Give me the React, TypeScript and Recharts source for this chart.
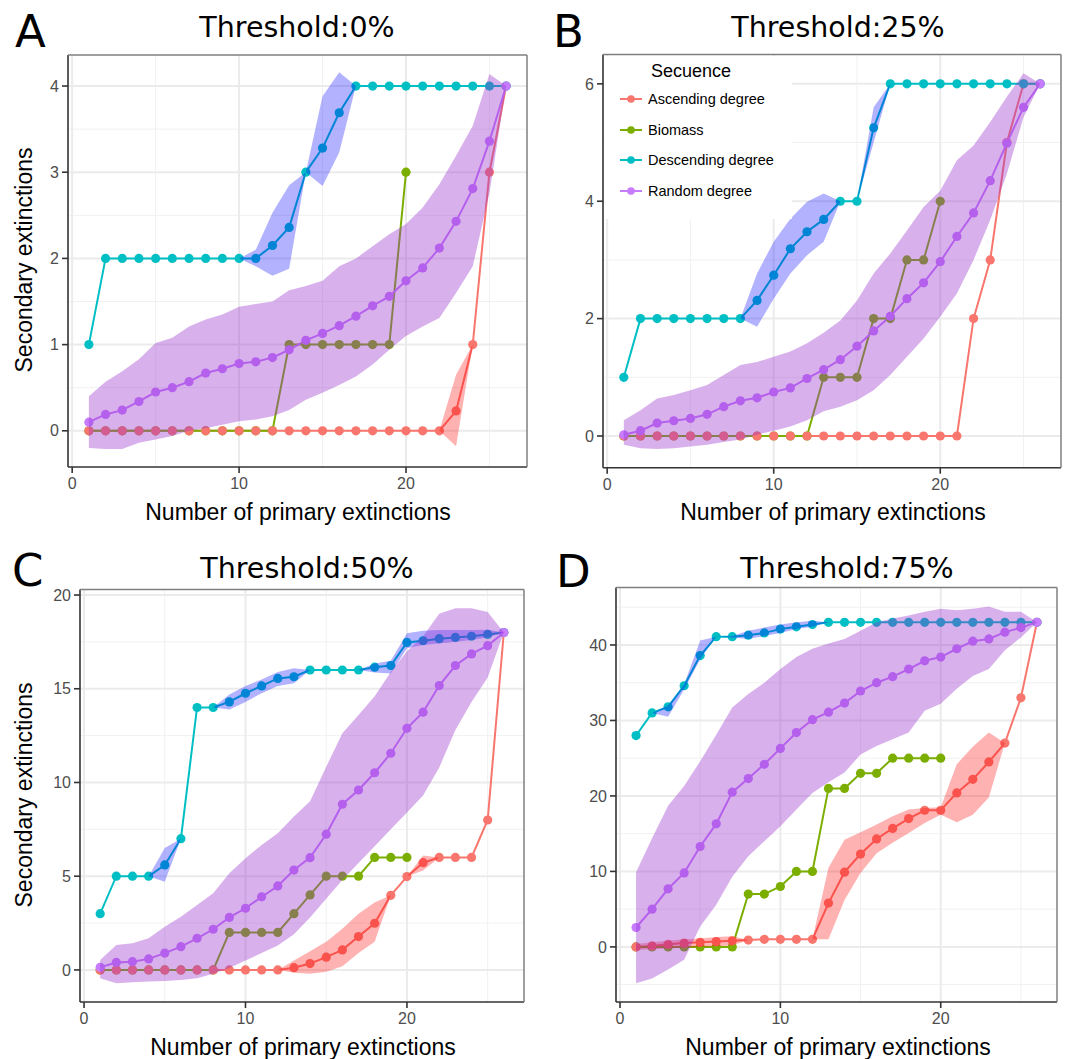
import React from 'react';
import { ComposedChart, Line, Area, XAxis, YAxis, CartesianGrid } from 'recharts';

// ---------- shared ----------
const X = [1, 2, 3, 4, 5, 6, 7, 8, 9, 10, 11, 12, 13, 14, 15, 16, 17, 18, 19, 20, 21, 22, 23, 24, 25, 26];
const X_TICKS = [0, 10, 20];
const X_MINOR = [5, 15, 25];
const SERIES_NAMES = ['Ascending degree', 'Biomass', 'Descending degree', 'Random degree'];
const LEGEND_TITLE = 'Secuence';
const X_TITLE = 'Number of primary extinctions';
const Y_TITLE = 'Secondary extinctions';

const pad = (start: number, vals: (number | null)[]) =>
  X.map((x) => {
    const i = x - start;
    return i >= 0 && i < vals.length ? vals[i] : null;
  });

// ---------- Panel A : Threshold 0% ----------
const A_ASC = [0, 0, 0, 0, 0, 0, 0, 0, 0, 0, 0, 0, 0, 0, 0, 0, 0, 0, 0, 0, 0, 0, 0.23, 1, 3, 4];
const A_BIO = [0, 0, 0, 0, 0, 0, 0, 0, 0, 0, 0, 0, 1, 1, 1, 1, 1, 1, 1, 3];
const A_DESC = [1, 2, 2, 2, 2, 2, 2, 2, 2, 2, 2, 2.15, 2.36, 3, 3.28, 3.69, 4, 4, 4, 4, 4, 4, 4, 4, 4, 4];
const A_RAND = [0.1, 0.19, 0.24, 0.34, 0.45, 0.5, 0.57, 0.67, 0.72, 0.78, 0.8, 0.85, 0.94, 1.05, 1.13, 1.22, 1.33, 1.45, 1.56, 1.74, 1.89, 2.12, 2.43, 2.81, 3.36, 4];
const A_ASC_LO = pad(22, [0, -0.18, 1]);
const A_ASC_HI = pad(22, [0, 0.65, 1]);
const A_DESC_LO = pad(10, [2, 1.91, 1.8, 1.88, 3, 2.84, 3.23, 4]);
const A_DESC_HI = pad(10, [2, 2.1, 2.53, 2.85, 3, 3.88, 4.16, 4]);
const A_RAND_LO = [-0.2, -0.21, -0.21, -0.14, -0.1, -0.06, 0, 0.03, 0.07, 0.11, 0.13, 0.17, 0.24, 0.36, 0.44, 0.53, 0.63, 0.77, 0.94, 1.1, 1.21, 1.31, 1.6, 1.91, 2.76, 4];
const A_RAND_HI = [0.4, 0.57, 0.69, 0.83, 1.02, 1.08, 1.21, 1.29, 1.35, 1.44, 1.47, 1.5, 1.63, 1.68, 1.74, 1.91, 2.0, 2.14, 2.28, 2.4, 2.59, 2.86, 3.19, 3.54, 4.14, 4];

// ---------- Panel B : Threshold 25% ----------
const B_ASC = [0, 0, 0, 0, 0, 0, 0, 0, 0, 0, 0, 0, 0, 0, 0, 0, 0, 0, 0, 0, 0, 2, 3, 5, 6, 6];
const B_BIO = [0, 0, 0, 0, 0, 0, 0, 0, 0, 0, 0, 0, 1, 1, 1, 2, 2, 3, 3, 4];
const B_DESC = [1, 2, 2, 2, 2, 2, 2, 2, 2.31, 2.74, 3.19, 3.48, 3.69, 4, 4, 5.25, 6, 6, 6, 6, 6, 6, 6, 6, 6, 6];
const B_RAND = [0.02, 0.09, 0.22, 0.26, 0.3, 0.37, 0.5, 0.6, 0.65, 0.75, 0.82, 0.98, 1.13, 1.3, 1.53, 1.79, 2.04, 2.34, 2.61, 2.97, 3.4, 3.8, 4.35, 4.99, 5.6, 6];
const B_ASC_LO = pad(1, []);
const B_ASC_HI = pad(1, []);
const B_DESC_LO = pad(8, [2, 1.86, 2.34, 2.77, 3.08, 3.31, 4, 4, 5.0, 6]);
const B_DESC_HI = pad(8, [2, 2.77, 3.31, 3.7, 3.99, 4.13, 4, 4, 5.6, 6]);
const B_RAND_LO = [-0.15, -0.21, -0.22, -0.21, -0.18, -0.15, -0.1, -0.06, 0.02, 0.09, 0.16, 0.27, 0.42, 0.5, 0.61, 0.78, 1.04, 1.35, 1.66, 2.03, 2.43, 3.0, 3.68, 4.47, 5.43, 6];
const B_RAND_HI = [0.27, 0.44, 0.64, 0.7, 0.78, 0.87, 1.04, 1.21, 1.26, 1.35, 1.44, 1.58, 1.76, 1.97, 2.31, 2.77, 3.11, 3.5, 3.9, 4.18, 4.7, 4.95, 5.35, 5.78, 6.18, 6];

// ---------- Panel C : Threshold 50% ----------
const C_ASC = [0, 0, 0, 0, 0, 0, 0, 0, 0, 0, 0, 0, 0.12, 0.34, 0.68, 1.07, 1.78, 2.49, 3.98, 4.98, 5.72, 6, 6, 6, 8, 18];
const C_BIO = [0, 0, 0, 0, 0, 0, 0, 0, 2, 2, 2, 2, 3, 4, 5, 5, 5, 6, 6, 6];
const C_DESC = [3, 5, 5, 5, 5.6, 7, 14, 14, 14.3, 14.76, 15.15, 15.55, 15.64, 16, 16, 16, 16, 16.15, 16.24, 17.47, 17.56, 17.67, 17.74, 17.8, 17.9, 18];
const C_RAND = [0.14, 0.4, 0.44, 0.59, 0.9, 1.24, 1.69, 2.17, 2.8, 3.29, 3.9, 4.48, 5.33, 5.99, 7.24, 8.84, 9.6, 10.52, 11.56, 12.89, 13.75, 15.17, 16.24, 16.86, 17.3, 18];
const C_ASC_LO = pad(12, [0, -0.15, -0.2, -0.1, 0.2, 0.9, 1.5, 3.98, 4.98, 5.3, 6]);
const C_ASC_HI = pad(12, [0, 0.5, 1.0, 1.5, 2.2, 3.0, 3.6, 3.98, 4.98, 6.1, 6]);
const C_DESC_LO = pad(4, [5, 4.7, 7, null, 14, 13.9, 14.3, 14.76, 15.15, 15.3, 16, null, null, 16, 15.87, 15.82, 17.16, 17.33, 17.42, 17.51, 17.6, 17.74, 18]);
const C_DESC_HI = pad(4, [5, 6.5, 7, null, 14, 14.7, 15.15, 15.5, 15.9, 16.1, 16, null, null, 16, 16.35, 16.5, 17.96, 18.1, 18.13, 18.13, 18.13, 18.15, 18]);
const C_RAND_LO = [-0.44, -0.71, -0.66, -0.62, -0.59, -0.53, -0.44, -0.2, 0.1, 0.5, 0.9, 1.3, 1.9, 2.8, 3.8, 4.8, 5.7, 6.6, 7.5, 8.4, 9.3, 10.8, 12.8, 14.3, 15.6, 18];
const C_RAND_HI = [0.53, 1.33, 1.42, 1.69, 2.3, 2.84, 3.47, 4.09, 5.16, 5.96, 6.67, 7.29, 8.18, 9.0, 10.84, 12.62, 13.6, 14.6, 15.9, 17.0, 17.8, 19.0, 19.3, 19.3, 19.1, 18];

// ---------- Panel D : Threshold 75% ----------
const D_ASC = [0, 0.13, 0.35, 0.5, 0.6, 0.7, 0.8, 0.9, 1, 1, 1, 1, 5.8, 9.9, 12.3, 14.3, 15.7, 17.0, 18.1, 18.1, 20.4, 22.2, 24.5, 27.0, 33.0, 43];
const D_BIO = [0, 0, 0, 0, 0, 0, 0, 7, 7, 8, 10, 10, 21, 21, 23, 23, 25, 25, 25, 25];
const D_DESC = [28, 31, 31.8, 34.6, 38.6, 41.1, 41.1, 41.3, 41.6, 42.1, 42.4, 42.7, 43, 43, 43, 43, 43, 43, 43, 43, 43, 43, 43, 43, 43, 43];
const D_RAND = [2.57, 5.0, 7.7, 9.8, 13.3, 16.3, 20.5, 22.3, 24.2, 26.3, 28.4, 30.1, 31.1, 32.3, 33.9, 35.0, 35.8, 36.8, 37.9, 38.4, 39.5, 40.5, 40.8, 41.7, 42.3, 43];
const D_ASC_LO = pad(1, [-0.4, -0.3, -0.2, -0.1, 0, 0.1, 0.2, 0.9, null, null, null, 1, 1.0, 6.2, 9.8, 12.4, 13.8, 15.1, 16.4, 17.5, 16.5, 17.5, 19.8, 27]);
const D_ASC_HI = pad(1, [0.4, 0.6, 0.8, 1.0, 1.1, 1.3, 1.4, 0.9, null, null, null, 1, 10.5, 14.2, 15.2, 16.2, 17.3, 18.2, 18.4, 18.5, 24.2, 26.5, 28.4, 27]);
const D_DESC_LO = pad(2, [31, 30.5, 34.1, 38.1, 41.1, 41.0, 40.8, 41.2, 41.6, 42.1, 42.4, 43]);
const D_DESC_HI = pad(2, [31, 32.0, 34.8, 40.6, 41.1, 41.2, 41.9, 42.3, 42.7, 43.0, 43.2, 43]);
const D_RAND_LO = [-4.8, -4.2, -3.0, -1.7, 2.7, 5.6, 9.3, 12.0, 14.0, 16.0, 18.2, 20.4, 21.8, 23.1, 25.5, 26.6, 27.5, 28.4, 31.3, 32.2, 34.2, 35.9, 36.8, 39.3, 41.0, 43];
const D_RAND_HI = [9.9, 14.4, 18.7, 21.3, 24.6, 28.1, 31.7, 33.5, 35.0, 36.8, 38.4, 39.5, 40.2, 40.8, 41.9, 43.0, 43.5, 43.9, 44.4, 44.8, 44.6, 44.8, 45.1, 44.4, 44.4, 43];

// ---------- styles ----------
const COL = { asc: '#F8766D', bio: '#7CAE00', desc: '#00BFC4', rand: '#C77CFF' };
const RIB = {
  asc: { fill: '#ff0000', op: 0.3 },
  desc: { fill: '#0000ff', op: 0.3 },
  rand: { fill: '#9932cc', op: 0.38 },
};
const SANS = 'Liberation Sans, Arial, sans-serif';
const DEJAVU = 'DejaVu Sans, sans-serif';

type Arr = (number | null)[];
type PanelCfg = {
  key: string;
  letter: string;
  title: string;
  left: number; top: number; w: number; h: number;
  mt: number; mr: number; yw: number; xh: number;
  yDomain: [number, number];
  yTicks: number[];
  yMinor: number[];
  asc: Arr; bio: Arr; desc: Arr; rand: Arr;
  ascLo: Arr; ascHi: Arr; descLo: Arr; descHi: Arr; randLo: Arr; randHi: Arr;
};

const PANELS: PanelCfg[] = [
  {
    key: 'A', letter: 'A', title: 'Threshold:0%',
    left: 0, top: 0, w: 535, h: 530, mt: 55, mr: 8, yw: 68, xh: 63,
    yDomain: [-0.42, 4.36], yTicks: [0, 1, 2, 3, 4], yMinor: [0.5, 1.5, 2.5, 3.5],
    asc: A_ASC, bio: A_BIO, desc: A_DESC, rand: A_RAND,
    ascLo: A_ASC_LO, ascHi: A_ASC_HI, descLo: A_DESC_LO, descHi: A_DESC_HI, randLo: A_RAND_LO, randHi: A_RAND_HI,
  },
  {
    key: 'B', letter: 'B', title: 'Threshold:25%',
    left: 535, top: 0, w: 535, h: 530, mt: 54.5, mr: 9, yw: 68, xh: 62.3,
    yDomain: [-0.54, 6.5], yTicks: [0, 2, 4, 6], yMinor: [1, 3, 5],
    asc: B_ASC, bio: B_BIO, desc: B_DESC, rand: B_RAND,
    ascLo: B_ASC_LO, ascHi: B_ASC_HI, descLo: B_DESC_LO, descHi: B_DESC_HI, randLo: B_RAND_LO, randHi: B_RAND_HI,
  },
  {
    key: 'C', letter: 'C', title: 'Threshold:50%',
    left: 0, top: 530, w: 535, h: 529, mt: 59.4, mr: 11, yw: 80, xh: 57,
    yDomain: [-1.71, 20.3], yTicks: [0, 5, 10, 15, 20], yMinor: [2.5, 7.5, 12.5, 17.5],
    asc: C_ASC, bio: C_BIO, desc: C_DESC, rand: C_RAND,
    ascLo: C_ASC_LO, ascHi: C_ASC_HI, descLo: C_DESC_LO, descHi: C_DESC_HI, randLo: C_RAND_LO, randHi: C_RAND_HI,
  },
  {
    key: 'D', letter: 'D', title: 'Threshold:75%',
    left: 535, top: 530, w: 535, h: 529, mt: 57.6, mr: 13, yw: 81, xh: 57,
    yDomain: [-7.3, 47.6], yTicks: [0, 10, 20, 30, 40], yMinor: [-5, 5, 15, 25, 35, 45],
    asc: D_ASC, bio: D_BIO, desc: D_DESC, rand: D_RAND,
    ascLo: D_ASC_LO, ascHi: D_ASC_HI, descLo: D_DESC_LO, descHi: D_DESC_HI, randLo: D_RAND_LO, randHi: D_RAND_HI,
  },
];

// text placement (page coordinates)
const TEXT_POS: Record<string, any> = {
  A: { letter: [15, 47], title: [297, 37], xTitle: [298, 520], yTitle: [32, 260] },
  B: { letter: [553, 47], title: [838, 37], xTitle: [833, 520], yTitle: null },
  C: { letter: [12, 586], title: [307, 578], xTitle: [303, 1055], yTitle: [32, 795] },
  D: { letter: [556, 587], title: [847, 578], xTitle: [838, 1055], yTitle: null },
};

const rng = (lo: Arr, hi: Arr, i: number) =>
  lo[i] != null && hi[i] != null ? [lo[i], hi[i]] : null;

function buildRows(p: PanelCfg) {
  return X.map((x, i) => ({
    x,
    asc: p.asc[i] ?? null,
    bio: p.bio[i] ?? null,
    desc: p.desc[i] ?? null,
    rand: p.rand[i] ?? null,
    ascR: rng(p.ascLo, p.ascHi, i),
    descR: rng(p.descLo, p.descHi, i),
    randR: rng(p.randLo, p.randHi, i),
  }));
}

const tickStyle = { fill: '#4d4d4d', fontSize: 16, fontFamily: SANS };

function axes(p: PanelCfg, visible: boolean) {
  const ax = visible ? { stroke: '#333333', strokeWidth: 1.6 } : false;
  return [
    <XAxis
      key="xa"
      dataKey="x"
      type="number"
      domain={[-0.25, 27.25]}
      ticks={X_TICKS}
      allowDataOverflow
      height={p.xh}
      tickSize={6}
      tickMargin={5}
      tick={visible ? tickStyle : false}
      axisLine={ax}
      tickLine={ax}
    />,
    <YAxis
      key="ya"
      type="number"
      domain={p.yDomain}
      ticks={p.yTicks}
      allowDataOverflow
      width={p.yw}
      tickSize={6}
      tickMargin={3}
      tick={visible ? tickStyle : false}
      axisLine={ax}
      tickLine={ax}
    />,
  ];
}

type K = 'asc' | 'bio' | 'desc' | 'rand';

function Panel({ p }: { p: PanelCfg }) {
  const data = buildRows(p);
  const lineOnly = (k: K) => (
    <Line
      key={'l' + k}
      type="linear"
      dataKey={k}
      stroke={COL[k]}
      strokeWidth={2}
      dot={false}
      activeDot={false}
      isAnimationActive={false}
      connectNulls={false}
    />
  );
  const dotsOnly = (k: K) => (
    <Line
      key={'d' + k}
      type="linear"
      dataKey={k}
      stroke="none"
      strokeWidth={0}
      dot={{ r: 4.6, fill: COL[k], stroke: 'none', strokeWidth: 0 }}
      activeDot={false}
      isAnimationActive={false}
      connectNulls={false}
    />
  );
  const ribbon = (k: 'asc' | 'desc' | 'rand') => (
    <Area
      key={'r' + k}
      type="linear"
      dataKey={k + 'R'}
      stroke="none"
      fill={RIB[k].fill}
      fillOpacity={RIB[k].op}
      dot={false}
      activeDot={false}
      isAnimationActive={false}
      connectNulls={false}
    />
  );
  const margin = { top: p.mt, right: p.mr, bottom: 0, left: 0 };
  return (
    <>
      {/* base layer: grid, axes, lines, points */}
      <div style={{ position: 'absolute', left: p.left, top: p.top }}>
        <ComposedChart width={p.w} height={p.h} data={data} margin={margin}>
          <CartesianGrid horizontalValues={p.yMinor} verticalValues={X_MINOR} stroke="#f1f1f1" strokeWidth={1} />
          <CartesianGrid horizontalValues={p.yTicks} verticalValues={X_TICKS} stroke="#ebebeb" strokeWidth={2} />
          {axes(p, true)}
          {lineOnly('asc')}
          {lineOnly('bio')}
          {lineOnly('desc')}
          {lineOnly('rand')}
          {dotsOnly('bio')}
          {dotsOnly('asc')}
          {dotsOnly('desc')}
          {dotsOnly('rand')}
        </ComposedChart>
      </div>
      {/* ribbon layer drawn on top (semi-transparent) */}
      <div style={{ position: 'absolute', left: p.left, top: p.top, pointerEvents: 'none' }}>
        <ComposedChart width={p.w} height={p.h} data={data} margin={margin}>
          {axes(p, false)}
          {ribbon('asc')}
          {ribbon('desc')}
          {ribbon('rand')}
        </ComposedChart>
      </div>
    </>
  );
}

function Overlay() {
  const items: React.ReactNode[] = [];
  PANELS.forEach((p) => {
    const l = p.left + p.yw;
    const r = p.left + p.w - p.mr;
    const t = p.top + p.mt;
    const b = p.top + p.h - p.xh;
    const tp = TEXT_POS[p.key];
    items.push(
      <line key={p.key + 'bt'} x1={l} y1={t} x2={r} y2={t} stroke="#7f7f7f" strokeWidth={1.5} />,
      <line key={p.key + 'br'} x1={r} y1={t} x2={r} y2={b} stroke="#7f7f7f" strokeWidth={1.5} />,
      <text key={p.key + 'L'} x={tp.letter[0]} y={tp.letter[1]} fontFamily={DEJAVU} fontSize={45} fill="#000">
        {p.letter}
      </text>,
      <text key={p.key + 'T'} x={tp.title[0]} y={tp.title[1]} fontFamily={DEJAVU} fontSize={28.5} fill="#000" textAnchor="middle">
        {p.title}
      </text>,
      <text key={p.key + 'X'} x={tp.xTitle[0]} y={tp.xTitle[1]} fontFamily={SANS} fontSize={23} fill="#000" textAnchor="middle">
        {X_TITLE}
      </text>
    );
    if (tp.yTitle) {
      items.push(
        <text
          key={p.key + 'Y'}
          x={tp.yTitle[0]}
          y={tp.yTitle[1]}
          fontFamily={SANS}
          fontSize={23}
          fill="#000"
          textAnchor="middle"
          transform={`rotate(-90 ${tp.yTitle[0]} ${tp.yTitle[1]})`}
        >
          {Y_TITLE}
        </text>
      );
    }
  });

  // legend inside panel B
  const legColors = [COL.asc, COL.bio, COL.desc, COL.rand];
  const legY = [99, 130, 160, 191];
  const legend = (
    <g key="legend">
      <rect x={604} y={56} width={188} height={163} fill="#ffffff" />
      <text x={651} y={77} fontFamily={SANS} fontSize={18} fill="#000">
        {LEGEND_TITLE}
      </text>
      {SERIES_NAMES.map((n, i) => (
        <g key={n}>
          <line x1={620} y1={legY[i]} x2={642} y2={legY[i]} stroke={legColors[i]} strokeWidth={2} />
          <circle cx={631} cy={legY[i]} r={3.8} fill={legColors[i]} />
          <text x={648} y={legY[i] + 5} fontFamily={SANS} fontSize={14.5} fill="#000">
            {n}
          </text>
        </g>
      ))}
    </g>
  );

  return (
    <svg width={1070} height={1059} style={{ position: 'absolute', left: 0, top: 0, pointerEvents: 'none' }}>
      {legend}
      {items}
    </svg>
  );
}

export default function App() {
  return (
    <div
      style={{
        position: 'absolute',
        left: 0,
        top: 0,
        width: 1070,
        height: 1059,
        background: '#ffffff',
        overflow: 'hidden',
      }}
    >
      {PANELS.map((p) => (
        <Panel key={p.key} p={p} />
      ))}
      <Overlay />
    </div>
  );
}
